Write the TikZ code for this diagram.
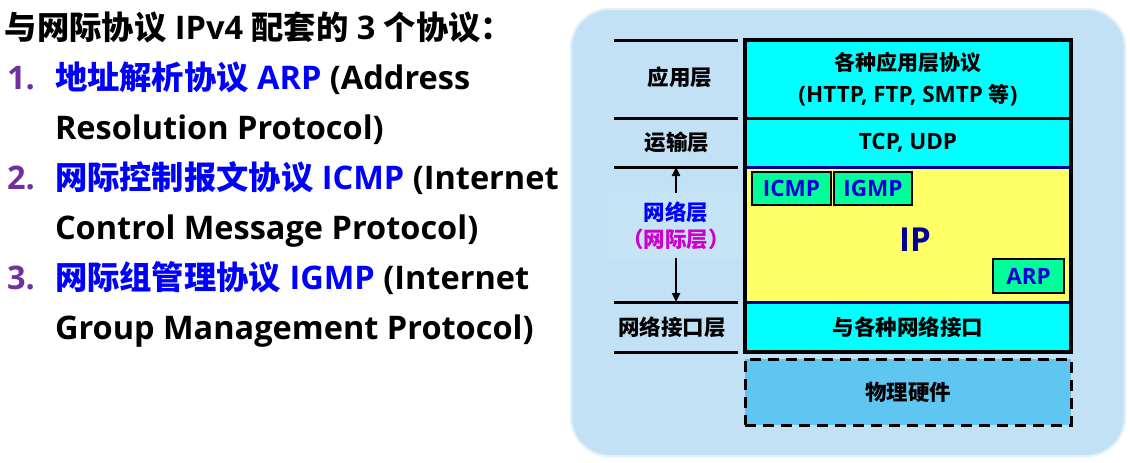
\documentclass[tikz,border=0pt]{standalone}
\usepackage{fontspec}
\setmainfont{Open Sans}
\newfontfamily\cjk{Noto Sans CJK SC}
\usetikzlibrary{arrows.meta}

\definecolor{panelbg}{HTML}{C3E1F5}
\definecolor{panelhi}{HTML}{C7E3F6}
\definecolor{layercyan}{HTML}{00FFFF}
\definecolor{ipyellow}{HTML}{FFFF66}
\definecolor{protgreen}{HTML}{00FF99}
\definecolor{hwblue}{HTML}{5FC6F2}
\definecolor{ipnavy}{HTML}{000099}
\definecolor{protblue}{HTML}{0000DD}
\definecolor{listblue}{HTML}{0000FF}
\definecolor{listpurple}{HTML}{7030A0}
\definecolor{labelmagenta}{HTML}{CC00CC}

% CJK text at a given size inside Latin text
\newcommand\zh[1]{{\cjk #1}}
\newcommand\zhs[2]{{\cjk\fontsize{#1}{#1}\selectfont #2}}
\newcommand\setfs[1]{\fontsize{#1}{#1}\selectfont}

\tikzset{
  every node/.style={inner sep=0pt, outer sep=0pt},
  listline/.style={anchor=base west, font=\bfseries\setfs{32.5}},
  layerlabel/.style={font=\bfseries\setfs{21.5}},
  layerbox/.style={fill=layercyan, font=\bfseries\setfs{22.5}, align=center},
  protbox/.style={fill=protgreen, draw=black, line width=1.5pt,
    text=protblue, font=\bfseries\setfs{22.5}},
  sepline/.style={line width=3pt},
  navyline/.style={draw=ipnavy, line width=3pt},
  updown/.style={line width=2.5pt, -{Triangle[length=9pt, width=8pt]}},
}

\begin{document}
\begin{tikzpicture}[x=1pt, y=-1pt]
\useasboundingbox (0,0) rectangle (1130,463);
\fill[white] (0,0) rectangle (1130,463);

% ---- protocol list ----
\node[listline] (l1) at (5,39) {\zhs{32.3}{与网际协议} IPv4 \zhs{32.3}{配套的} 3 \zhs{32.3}{个协议：}};
\node[listline, text=listpurple] (n1) at (7,89) {1.};
\node[listline] (l2) at (55,89) {\textcolor{listblue}{\zhs{32.3}{地址解析协议} ARP} (Address};
\node[listline] (l3) at (55,139) {Resolution Protocol)};
\node[listline, text=listpurple] (n2) at (7,189) {2.};
\node[listline] (l4) at (55,189) {\textcolor{listblue}{\zhs{32.3}{网际控制报文协议} ICMP} (Internet};
\node[listline] (l5) at (55,239) {Control Message Protocol)};
\node[listline, text=listpurple] (n3) at (7,289) {3.};
\node[listline] (l6) at (55,289) {\textcolor{listblue}{\zhs{32.3}{网际组管理协议} IGMP} (Internet};
\node[listline] (l7) at (55,339) {Group Management Protocol)};

% ---- panel ----
\fill[panelbg, rounded corners=40pt] (570,8) rectangle (1126,457);
\draw[white, opacity=0.5, line width=2pt, rounded corners=39pt] (571,9) rectangle (1125,456);

% layer names on the left
\node[fill=panelhi, minimum width=136, minimum height=65] (netblk) at (676,225.5) {};
\foreach \yy in {40,118,167,302,352} \draw[sepline] (614,\yy) -- (738,\yy);
\node[layerlabel] (appname) at (680,77) {\zh{应用层}};
\node[layerlabel] (tcpname) at (677,142) {\zh{运输层}};
\node[layerlabel, text=listblue] (netname) at (676,212) {\zh{网络层}};
\node[layerlabel, text=labelmagenta] (netalt) at (676,239) {\zh{（网际层）}};
\node[layerlabel] (ifname) at (672,327) {\zh{网络接口层}};
\coordinate (nettop) at (676,167);
\coordinate (netbot) at (676,302);
\draw[updown] (netblk.north) -- (nettop);
\draw[updown] (netblk.south) -- (netbot);

% protocol stack
\node[layerbox, minimum width=326, minimum height=78] (app) at (908,79)
  {\zhs{21}{各种应用层协议}\\[10pt](HTTP, FTP, SMTP \zhs{21}{等})};
\node[layerbox, minimum width=326, minimum height=49] (tcp) at (908,142.5) {TCP, UDP};
\node[fill=ipyellow, minimum width=326, minimum height=135] (ip) at (908,234.5) {};
\node[text=ipnavy, font=\bfseries\setfs{33}] (iptext) at (915,240) {IP};
\node[layerbox, minimum width=326, minimum height=50] (iface) at (908,327)
  {\zhs{21.5}{与各种网络接口}};
\node[protbox, minimum width=79, minimum height=33] (icmp) at (791.5,188.5) {ICMP};
\node[protbox, minimum width=78, minimum height=33] (igmp) at (873,188.5) {IGMP};
\node[protbox, minimum width=71, minimum height=34] (arp) at (1028.5,276) {ARP};
\draw[navyline] (ip.north west) -- (ip.north east);
\draw[navyline] (ip.south west) -- (ip.south east);
\draw[sepline] (app.south west) -- (app.south east);
\draw[line width=4pt] (app.north west) rectangle (iface.south east);

% physical hardware
\node[fill=hwblue, draw=black, line width=3pt, dash pattern=on 11pt off 7pt,
  minimum width=326, minimum height=66, font=\bfseries\setfs{21.5}] (hw) at (908,392)
  {\zh{物理硬件}};
\end{tikzpicture}
\end{document}
